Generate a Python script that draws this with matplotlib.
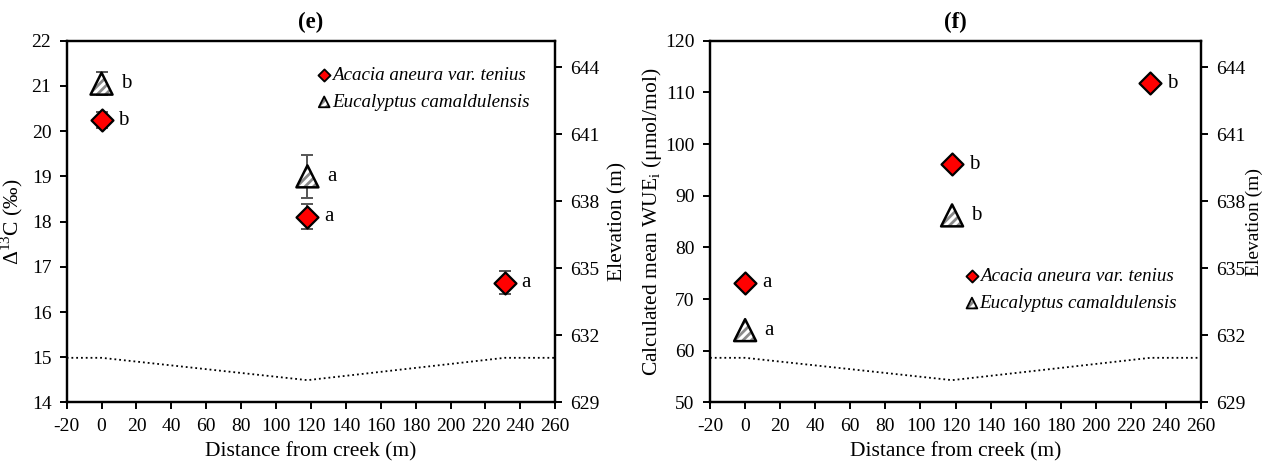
import numpy as np
import matplotlib
matplotlib.use('Agg')
import matplotlib.pyplot as plt
from matplotlib.legend_handler import HandlerTuple

plt.rcParams['font.family'] = ['Liberation Serif', 'DejaVu Serif']
plt.rcParams['mathtext.fontset'] = 'custom'
plt.rcParams['mathtext.rm'] = 'Liberation Serif'
plt.rcParams['axes.unicode_minus'] = False
plt.rcParams['hatch.linewidth'] = 2.0

# distances from creek (m)
acacia_x = [0, 118, 231]
euc_x = [0, 118]

# panel (e): carbon isotope discrimination
acacia_d13c = [20.24, 18.11, 16.65]
acacia_d13c_err = [0.18, 0.28, 0.25]
acacia_d13c_lbl = ['b', 'a', 'a']
euc_d13c = [21.05, 19.0]
euc_d13c_err = [0.25, 0.47]
euc_d13c_lbl = ['b', 'a']

# panel (f): intrinsic water use efficiency
acacia_wue = [73.2, 96.1, 111.8]
acacia_wue_lbl = ['a', 'b', 'b']
euc_wue = [64.0, 86.2]
euc_wue_lbl = ['a', 'b']

# ground elevation profile
elev_x = [-20, 0, 118, 231, 260]
elev_m = [631, 631, 630, 631, 631]

TICK_FS = 14
LAB_FS = 15.5
LEG_FS = 13.7


def euc_marker(ax, x, y, s, lw):
    # hatched fill first, then the black outline on top
    fill = ax.scatter(x, y, marker='^', s=s, facecolor='white', edgecolor='#8a8a8a',
                      linewidth=0, hatch='////', zorder=3)
    edge = ax.scatter(x, y, marker='^', s=s, facecolor='none', edgecolor='black',
                      linewidth=lw, zorder=4)
    return fill, edge


def draw_panel(ax, acacia_y, acacia_err, acacia_lbl, euc_y, euc_err, euc_lbl,
               ylim, yticks, ylabel, title, legend_anchor, ylab_pad, elev_pad, elev_fs):
    ax2 = ax.twinx()
    ax2.plot(elev_x, elev_m, color='black', linestyle=':', linewidth=1.3)
    ax2.set_ylim(629, 645.2)
    ax2.set_yticks(np.arange(629, 645, 3))
    ax2.set_ylabel('Elevation (m)', fontsize=elev_fs, labelpad=elev_pad)
    ax2.tick_params(axis='y', direction='out', labelsize=TICK_FS, length=5,
                    width=1.4, pad=6)

    # data axes above the elevation line
    ax.set_zorder(ax2.get_zorder() + 1)
    ax.patch.set_visible(False)

    if acacia_err is not None:
        ax.errorbar(acacia_x, acacia_y, yerr=acacia_err, fmt='none',
                    ecolor='#555555', elinewidth=1.4, capsize=4.5, capthick=1.4, zorder=2)
    if euc_err is not None:
        ax.errorbar(euc_x, euc_y, yerr=euc_err, fmt='none',
                    ecolor='#555555', elinewidth=1.4, capsize=4.5, capthick=1.4, zorder=2)

    ax.scatter(acacia_x, acacia_y, marker='D', s=125, facecolor='#ff0000',
               edgecolor='black', linewidth=1.6, zorder=5)
    euc_marker(ax, euc_x, euc_y, 250, 1.8)

    for x, y, t in zip(acacia_x, acacia_y, acacia_lbl):
        ax.annotate(t, (x, y), xytext=(12, 0), textcoords='offset points',
                    va='center', ha='left', fontsize=15)
    for x, y, t in zip(euc_x, euc_y, euc_lbl):
        ax.annotate(t, (x, y), xytext=(14, 0), textcoords='offset points',
                    va='center', ha='left', fontsize=15)

    ax.set_xlim(-20, 260)
    ax.set_xticks(np.arange(-20, 261, 20))
    ax.set_ylim(*ylim)
    ax.set_yticks(yticks)
    ax.set_xlabel('Distance from creek (m)', fontsize=LAB_FS, labelpad=5)
    ax.set_ylabel(ylabel, fontsize=LAB_FS, labelpad=ylab_pad)
    ax.set_title(title, fontsize=16.5, fontweight='bold', pad=9)
    ax.tick_params(direction='out', labelsize=TICK_FS, length=5, width=1.4, pad=6)
    for a in (ax, ax2):
        for s in a.spines.values():
            s.set_linewidth(1.6)

    h1 = ax.scatter([], [], marker='D', s=38, facecolor='#ff0000',
                    edgecolor='black', linewidth=1.3)
    h2 = euc_marker(ax, [], [], 60, 1.3)
    ax.legend([h1, h2], ['Acacia aneura var. tenius', 'Eucalyptus camaldulensis'],
              handler_map={tuple: HandlerTuple(ndivide=1)},
              loc='upper right', bbox_to_anchor=legend_anchor, frameon=False,
              prop={'style': 'italic', 'size': LEG_FS}, handletextpad=0.1,
              handlelength=0.6, borderaxespad=0, borderpad=0, labelspacing=0.5)


fig = plt.figure(figsize=(12.67, 4.66), dpi=100)
ax_e = fig.add_axes([0.0526, 0.1363, 0.3856, 0.7764])
ax_f = fig.add_axes([0.5604, 0.1363, 0.3876, 0.7764])

draw_panel(ax_e, acacia_d13c, acacia_d13c_err, acacia_d13c_lbl,
           euc_d13c, euc_d13c_err, euc_d13c_lbl,
           (14, 22), np.arange(14, 23, 1), r'$\Delta^{13}$C (‰)', '(e)',
           (0.947, 0.928), 5, 6, LAB_FS)
draw_panel(ax_f, acacia_wue, None, acacia_wue_lbl,
           euc_wue, None, euc_wue_lbl,
           (50, 120), np.arange(50, 121, 10),
           r'Calculated mean WUE$_{\mathrm{i}}$ (μmol/mol)', '(f)',
           (0.951, 0.372), 1, 0, 14)

fig.savefig('out.png', dpi=100)
